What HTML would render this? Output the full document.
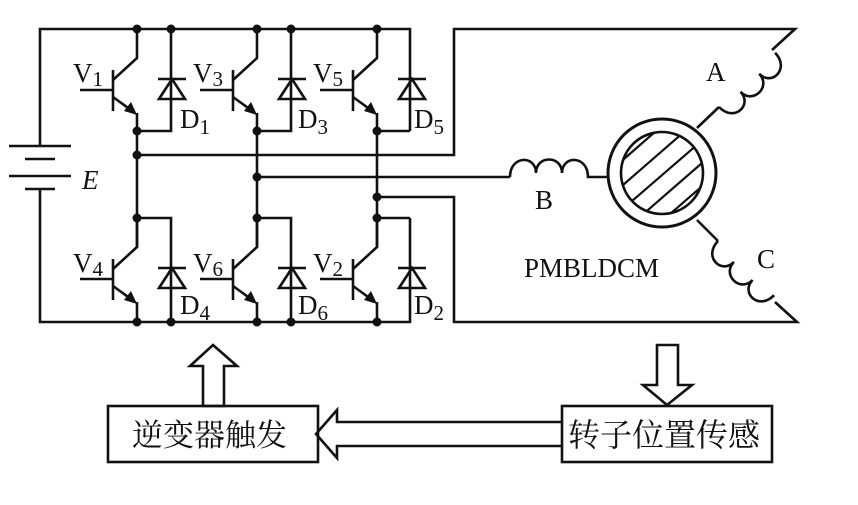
<!DOCTYPE html>
<html><head><meta charset="utf-8"><style>
html,body{margin:0;padding:0;background:#fff;}
svg{display:block;}
text{font-family:"Liberation Serif",serif;fill:#111;}
.cjk{font-family:"Liberation Serif","Noto Serif CJK SC","Noto Sans CJK SC",serif;}
</style></head><body>
<svg width="858" height="505" viewBox="0 0 858 505" xmlns="http://www.w3.org/2000/svg">
<defs>
<g id="tr">
  <line x1="80" y1="90" x2="113" y2="90"/>
  <line x1="113" y1="70" x2="113" y2="111"/>
  <polyline points="137,29 137,58 113,80" fill="none"/>
  <line x1="113" y1="97" x2="135" y2="113"/>
  <polygon points="137,115 124,111 131,102" fill="#111" stroke="none"/>
  <line x1="137" y1="113" x2="137" y2="131"/>
  <line x1="158" y1="79" x2="186" y2="79"/>
  <polygon points="172,79 159,99 185,99" fill="none"/>
</g>
</defs>
<g stroke="#111" stroke-width="2.6" fill="none">
  <polyline points="40,146 40,29 410,29 410,131"/>
  <polyline points="40,189 40,322 410,322 410,218"/>
  <line x1="9" y1="146" x2="71" y2="146"/>
  <line x1="25" y1="159" x2="55" y2="159"/>
  <line x1="9" y1="176" x2="71" y2="176"/>
  <line x1="25" y1="189" x2="55" y2="189"/>
  <use href="#tr"/>
  <use href="#tr" transform="translate(120,0)"/>
  <use href="#tr" transform="translate(240,0)"/>
  <use href="#tr" transform="translate(0,189)"/>
  <use href="#tr" transform="translate(120,189)"/>
  <use href="#tr" transform="translate(240,189)"/>
  <polyline points="171,29 171,131 137,131"/>
  <polyline points="291,29 291,131 257,131"/>
  <polyline points="137,218 171,218 171,322"/>
  <polyline points="257,218 291,218 291,322"/>
  <polyline points="377,218 410,218"/>
  <polyline points="377,131 410,131"/>
  <line x1="137" y1="131" x2="137" y2="247"/>
  <line x1="257" y1="131" x2="257" y2="247"/>
  <line x1="377" y1="131" x2="377" y2="247"/>
  <polyline points="137,155 454,155 454,29 795,29 772,50"/>
  <polyline points="257,177 510,177"/>
  <polyline points="377,197 454,197 454,322 797,322 775,302"/>
  <path d="M510,177 C510,155 536,155 536,173 C536,155 562,155 562,173 C562,155 588,155 588,177 L608,177"/>
  <g transform="translate(719,107) rotate(-44)">
    <path d="M0,0 C0,22 26,22 26,4 C26,22 52,22 52,4 C52,22 78,22 78,0"/>
  </g>
  <line x1="697" y1="128" x2="719" y2="107"/>
  <g transform="translate(718,241) rotate(44)">
    <path d="M0,0 C0,22 26,22 26,4 C26,22 52,22 52,4 C52,22 78,22 78,0"/>
  </g>
  <line x1="697" y1="220" x2="718" y2="241"/>
  <circle cx="662" cy="173" r="54" stroke-width="3"/>
  <circle cx="662" cy="173" r="41"/>
  <clipPath id="cc"><circle cx="662" cy="173" r="41"/></clipPath>
  <g clip-path="url(#cc)" stroke-width="2.2">
    <line x1="600" y1="180" x2="680" y2="110"/>
    <line x1="600" y1="205" x2="700" y2="118"/>
    <line x1="610" y1="220" x2="720" y2="125"/>
    <line x1="625" y1="230" x2="725" y2="143"/>
    <line x1="640" y1="240" x2="730" y2="162"/>
  </g>
  <rect x="108" y="406" width="210" height="56"/>
  <rect x="562" y="406" width="210" height="56"/>
  <polygon points="203,406 203,366 190,366 213,345 237,366 224,366 224,406"/>
  <polygon points="657,345 657,385 643,385 667,405 692,385 678,385 678,345"/>
  <polyline points="562,422 337,422 337,410 316,434 337,458 337,446 562,446"/>
</g>
<g fill="#111">
  <circle cx="137" cy="29" r="4.5"/><circle cx="171" cy="29" r="4.5"/>
  <circle cx="257" cy="29" r="4.5"/><circle cx="291" cy="29" r="4.5"/>
  <circle cx="377" cy="29" r="4.5"/>
  <circle cx="137" cy="131" r="4.5"/><circle cx="257" cy="131" r="4.5"/><circle cx="377" cy="131" r="4.5"/>
  <circle cx="137" cy="155" r="4.5"/><circle cx="257" cy="177" r="4.5"/><circle cx="377" cy="197" r="4.5"/>
  <circle cx="137" cy="218" r="4.5"/><circle cx="257" cy="218" r="4.5"/><circle cx="377" cy="218" r="4.5"/>
  <circle cx="137" cy="322" r="4.5"/><circle cx="171" cy="322" r="4.5"/>
  <circle cx="257" cy="322" r="4.5"/><circle cx="291" cy="322" r="4.5"/>
  <circle cx="377" cy="322" r="4.5"/>
</g>
<g font-size="27">
  <text x="73" y="82">V<tspan font-size="21" dy="4">1</tspan></text>
  <text x="193" y="82">V<tspan font-size="21" dy="4">3</tspan></text>
  <text x="313" y="82">V<tspan font-size="21" dy="4">5</tspan></text>
  <text x="73" y="272">V<tspan font-size="21" dy="4">4</tspan></text>
  <text x="193" y="272">V<tspan font-size="21" dy="4">6</tspan></text>
  <text x="313" y="272">V<tspan font-size="21" dy="4">2</tspan></text>
  <text x="180" y="128">D<tspan font-size="21" dy="6">1</tspan></text>
  <text x="298" y="128">D<tspan font-size="21" dy="6">3</tspan></text>
  <text x="414" y="128">D<tspan font-size="21" dy="6">5</tspan></text>
  <text x="180" y="314">D<tspan font-size="21" dy="6">4</tspan></text>
  <text x="298" y="314">D<tspan font-size="21" dy="6">6</tspan></text>
  <text x="414" y="314">D<tspan font-size="21" dy="6">2</tspan></text>
  <text x="82" y="189" font-style="italic">E</text>
  <text x="706" y="81">A</text>
  <text x="535" y="209">B</text>
  <text x="757" y="268">C</text>
  <text x="524" y="277">PMBLDCM</text>
</g>
<text class="cjk" x="132" y="446" font-size="31">逆变器触发</text>
<text class="cjk" x="568" y="446" font-size="32">转子位置传感</text>
</svg>
</body></html>
